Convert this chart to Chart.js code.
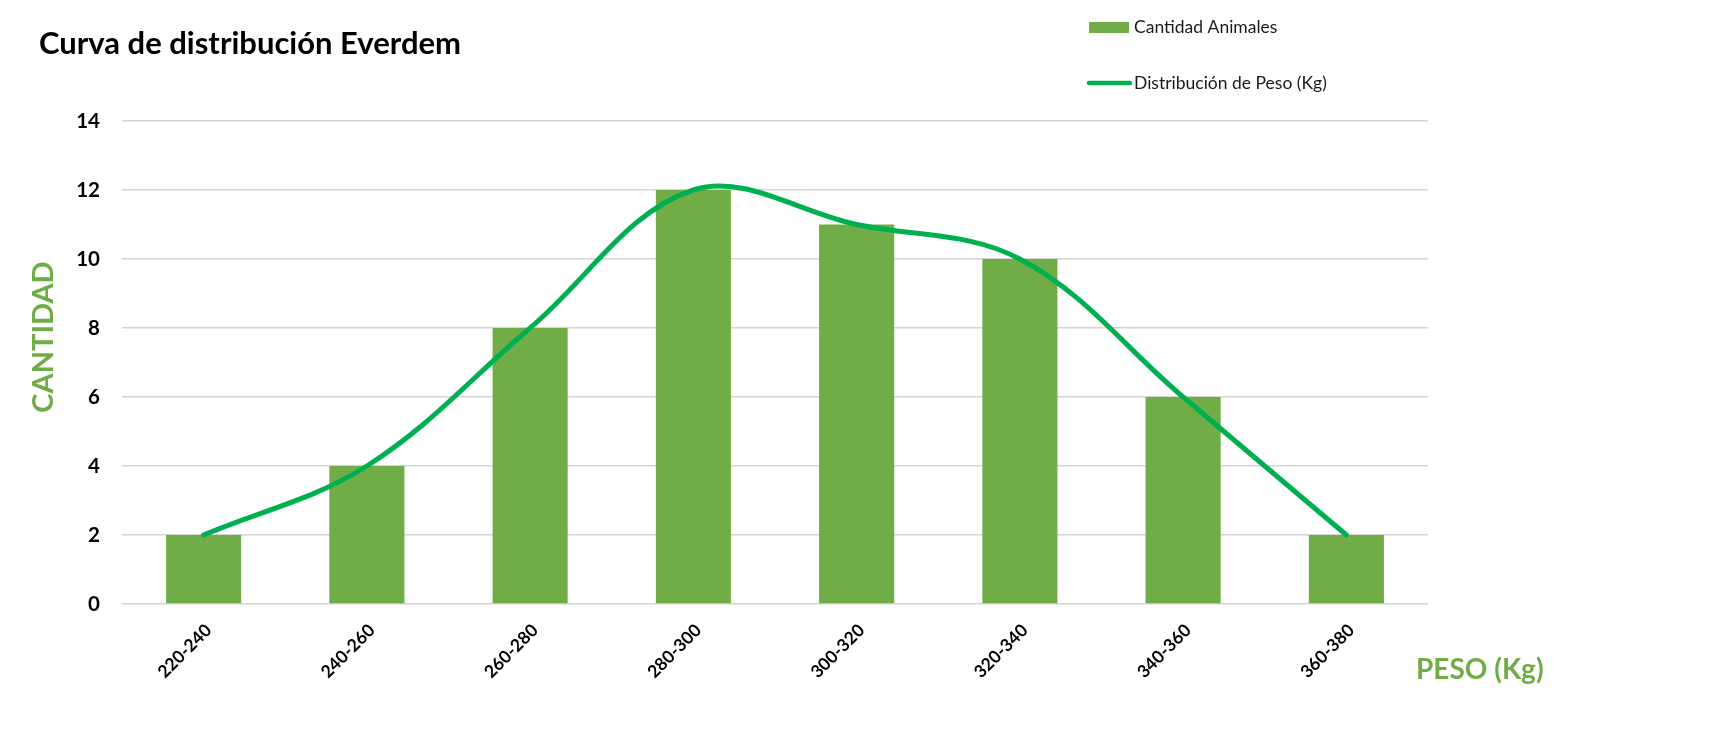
<!DOCTYPE html>
<html>
<head>
<meta charset="utf-8">
<script src="https://cdn.jsdelivr.net/npm/chart.js@4/dist/chart.umd.min.js"></script>
<style>
  html, body { margin: 0; padding: 0; background: #ffffff; }
  #wrap { width: 1726px; height: 744px; position: relative; }
</style>
</head>
<body>
<div id="wrap"><canvas id="chart"></canvas></div>
<script>
// ---- data ----
const categories = ['220-240', '240-260', '260-280', '280-300', '300-320', '320-340', '340-360', '360-380'];
const cantidadAnimales = [2, 4, 8, 12, 11, 10, 6, 2];
const distribucionPeso = [2, 4, 8, 12, 11, 10, 6, 2];
const yTickValues = [0, 2, 4, 6, 8, 10, 12, 14];
const seriesNames = ['Cantidad Animales', 'Distribución de Peso (Kg)'];
const chartTitle = 'Curva de distribución Everdem';
const yAxisTitle = 'CANTIDAD';
const xAxisTitle = 'PESO (Kg)';

const FONT = 'Lato, "Open Sans", "DejaVu Sans", sans-serif';
const BAR_GREEN = '#70AD47';
const LINE_GREEN = '#00B050';

// Title, side legend and axis titles drawn on the canvas
const decorPlugin = {
  id: 'decor',
  afterDraw(chart) {
    const ctx = chart.ctx;
    ctx.save();
    // Title
    ctx.font = 'bold 31px ' + FONT;
    ctx.fillStyle = '#000000';
    ctx.textAlign = 'left';
    ctx.textBaseline = 'alphabetic';
    ctx.fillText(chartTitle, 39, 54);

    // Legend (stacked vertically)
    const rows = [27.5, 83];
    chart.data.datasets.forEach((ds, i) => {
      const y = rows[i];
      if (ds.type === 'line') {
        ctx.strokeStyle = ds.borderColor;
        ctx.lineWidth = 4.5;
        ctx.lineCap = 'round';
        ctx.beginPath();
        ctx.moveTo(1089, y);
        ctx.lineTo(1130, y);
        ctx.stroke();
      } else {
        ctx.fillStyle = ds.backgroundColor;
        ctx.fillRect(1089, y - 5.5, 40, 11);
      }
      ctx.fillStyle = '#1a1a1a';
      ctx.font = '17.5px ' + FONT;
      ctx.textAlign = 'left';
      ctx.textBaseline = 'middle';
      ctx.fillText(ds.label, 1134, y);
    });

    // Y-axis title (rotated)
    ctx.save();
    ctx.translate(53, 337);
    ctx.rotate(-Math.PI / 2);
    ctx.font = 'bold 29px ' + FONT;
    ctx.fillStyle = BAR_GREEN;
    ctx.textAlign = 'center';
    ctx.textBaseline = 'alphabetic';
    ctx.fillText(yAxisTitle, 0, 0);
    ctx.restore();

    // X-axis title
    ctx.font = 'bold 28px ' + FONT;
    ctx.fillStyle = BAR_GREEN;
    ctx.textAlign = 'left';
    ctx.textBaseline = 'alphabetic';
    ctx.fillText(xAxisTitle, 1416, 679);
    ctx.restore();
  }
};

new Chart(document.getElementById('chart'), {
  data: {
    labels: categories,
    datasets: [
      {
        type: 'bar',
        label: seriesNames[0],
        data: cantidadAnimales,
        backgroundColor: BAR_GREEN,
        borderWidth: 0,
        categoryPercentage: 1.0,
        barPercentage: 0.46,
        order: 2
      },
      {
        type: 'line',
        label: seriesNames[1],
        data: distribucionPeso,
        borderColor: LINE_GREEN,
        backgroundColor: LINE_GREEN,
        borderWidth: 5,
        borderCapStyle: 'round',
        tension: 0.36,
        pointRadius: 0,
        pointHoverRadius: 0,
        fill: false,
        order: 1
      }
    ]
  },
  options: {
    responsive: true,
    maintainAspectRatio: false,
    animation: false,
    layout: { padding: { left: 0, right: 298, top: 121, bottom: 0 } },
    plugins: {
      legend: { display: false },
      title: { display: false },
      tooltip: { enabled: false }
    },
    scales: {
      x: {
        grid: { display: false },
        border: { display: false },
        ticks: {
          autoSkip: false,
          maxRotation: 45,
          minRotation: 45,
          padding: 8,
          labelOffset: 5,
          color: '#000000',
          font: { family: FONT, size: 17.5, weight: 'bold' }
        },
        afterFit(scale) { scale.height = 744 - 604; }
      },
      y: {
        min: 0,
        max: 14,
        afterBuildTicks(scale) { scale.ticks = yTickValues.map(v => ({ value: v })); },
        grid: { color: '#d4d4d4', lineWidth: 1.5, drawTicks: false },
        border: { display: false },
        ticks: {
          padding: 22,
          color: '#000000',
          font: { family: FONT, size: 20.5, weight: 'bold' }
        },
        afterFit(scale) { scale.width = 122; }
      }
    }
  },
  plugins: [decorPlugin]
});
</script>
</body>
</html>
